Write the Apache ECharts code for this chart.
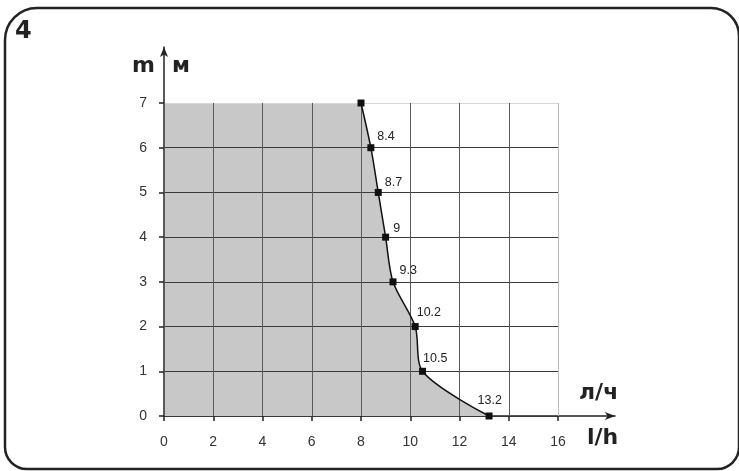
<!DOCTYPE html>
<html><head><meta charset="utf-8">
<script src="https://cdn.jsdelivr.net/npm/echarts@6/dist/echarts.min.js"></script>
<style>html,body{margin:0;padding:0;background:#fff}#c{width:739px;height:471px}</style>
</head><body><div id="c"></div>
<script>
// data
const flow = [8, 8.4, 8.7, 9, 9.3, 10.2, 10.5, 13.2];   // l/h
const head = [7, 6, 5, 4, 3, 2, 1, 0];                   // m
const pointLabels = ['', '8.4', '8.7', '9', '9.3', '10.2', '10.5', '13.2'];
const xTicks = [0, 2, 4, 6, 8, 10, 12, 14, 16];
const yTicks = [0, 1, 2, 3, 4, 5, 6, 7];

// style: label offsets per point
const labelOffsets = [[0,0],[-2,-11],[-2,-10],[-1,-9],[-2,-11],[-7,-14],[-8,-13],[-20,-15]];

const curve = flow.map((x, i) => [x, head[i]]);
const topRect = [[xTicks[0], head[0]], [flow[0], head[0]]];

const font = 'Arial, "Liberation Sans", sans-serif';
const chart = echarts.init(document.getElementById('c'), null, {renderer: 'canvas'});

const xSplit = xTicks.map((t, i) => i === xTicks.length - 1 ? '#bbbbbb' : '#5a5a5a');
const ySplit = yTicks.map((t, i) => i === yTicks.length - 1 ? '#d6d6d6' : '#3a3a3a');

chart.setOption({
  animation: false,
  grid: [
    {left: 164, right: 181, top: 103, bottom: 55},
    {left: 164, right: 124, top: 47, bottom: 55}
  ],
  xAxis: [{
    gridIndex: 0, type: 'value', min: 0, max: 16, interval: 2, z: 2,
    axisLine: {show: false},
    axisTick: {show: true, length: 5, lineStyle: {color: '#222', width: 1.5}},
    axisLabel: {margin: 19, fontSize: 14, color: '#333', fontFamily: font},
    splitLine: {show: true, lineStyle: {color: xSplit, width: 1}}
  }, {
    gridIndex: 1, type: 'value', min: 0, max: 1, show: true,
    axisLine: {show: true, symbol: ['none', 'arrow'], symbolSize: [6, 10], lineStyle: {color: '#222', width: 1.5}},
    axisTick: {show: false}, axisLabel: {show: false}, splitLine: {show: false}
  }],
  yAxis: [{
    gridIndex: 0, type: 'value', min: 0, max: 7, interval: 1, z: 2,
    axisLine: {show: false},
    axisTick: {show: true, length: 5, lineStyle: {color: '#222', width: 1.5}},
    axisLabel: {margin: 17, fontSize: 14, color: '#333', fontFamily: font},
    splitLine: {show: true, lineStyle: {color: ySplit, width: 1}}
  }, {
    gridIndex: 1, type: 'value', min: 0, max: 1, show: true,
    axisLine: {show: true, symbol: ['none', 'arrow'], symbolSize: [6, 10], lineStyle: {color: '#222', width: 1.5}},
    axisTick: {show: false}, axisLabel: {show: false}, splitLine: {show: false}
  }],
  series: [
    {
      type: 'line', xAxisIndex: 0, yAxisIndex: 0, data: topRect, z: 1,
      showSymbol: false, lineStyle: {width: 0}, areaStyle: {color: '#c8c8c8', opacity: 1},
      silent: true
    },
    {
      type: 'line', xAxisIndex: 0, yAxisIndex: 0, data: curve, z: 1, smooth: 0.3,
      showSymbol: false, lineStyle: {width: 0}, areaStyle: {color: '#c8c8c8', opacity: 1},
      silent: true
    },
    {
      type: 'line', xAxisIndex: 0, yAxisIndex: 0, z: 5, smooth: 0.3,
      data: curve.map((p, i) => ({
        value: p,
        label: {show: i > 0, offset: labelOffsets[i]}
      })),
      symbol: 'rect', symbolSize: 7, showAllSymbol: true,
      itemStyle: {color: '#111'},
      lineStyle: {color: '#111', width: 1.5},
      label: {
        position: 'right', distance: 5, fontSize: 12.5, color: '#222', fontFamily: font,
        formatter: p => pointLabels[p.dataIndex]
      }
    }
  ],
  graphic: [
    {type: 'rect', shape: {x: 5, y: 8, width: 734, height: 461, r: [32, 28, 22, 22]},
     style: {fill: 'none', stroke: '#222', lineWidth: 2.5}, z: 10},
    {type: 'text', left: 15, top: 20, style: {text: '4', font: 'bold 24px "DejaVu Sans", sans-serif', fill: '#222'}},
    {type: 'text', left: 132, top: 55, style: {text: 'm', font: 'bold 22px "DejaVu Sans", sans-serif', fill: '#222'}},
    {type: 'text', left: 172, top: 55, style: {text: 'м', font: 'bold 22px "DejaVu Sans", sans-serif', fill: '#222'}},
    {type: 'text', left: 579, top: 382, style: {text: 'л/ч', font: 'bold 22px "DejaVu Sans", sans-serif', fill: '#222'}},
    {type: 'text', left: 587, top: 427, style: {text: 'l/h', font: 'bold 22px "DejaVu Sans", sans-serif', fill: '#222'}}
  ]
});
</script></body></html>
